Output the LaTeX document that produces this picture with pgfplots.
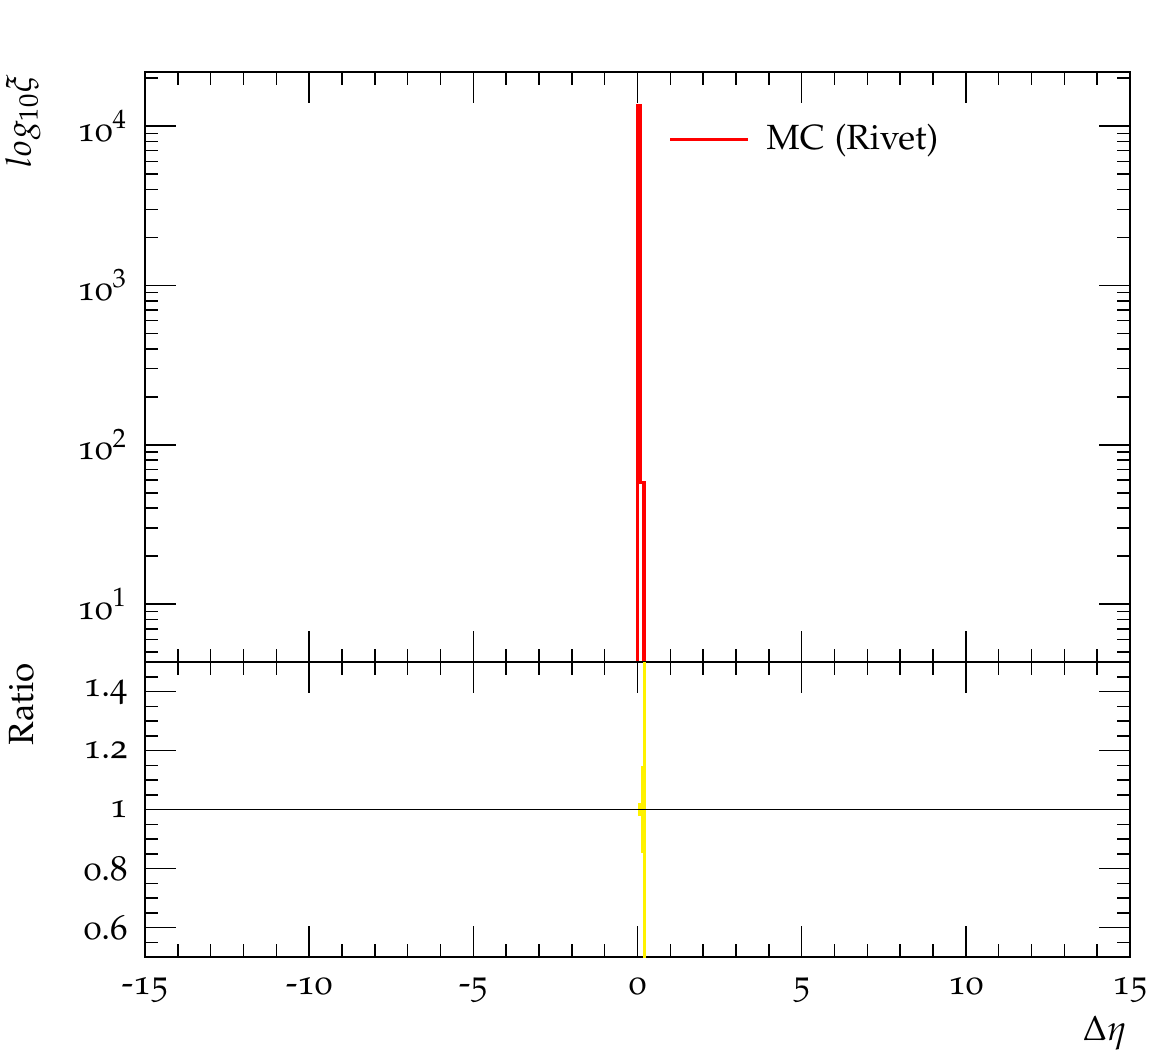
\documentclass[border=0pt]{standalone}
\usepackage[T1]{fontenc}
\usepackage[osf]{mathpazo}
\usepackage{pgfplots}
\pgfplotsset{compat=1.18}
\begin{document}
\begin{tikzpicture}
\fontsize{10.5}{12.6}\selectfont
\useasboundingbox (0,0) rectangle (350.1pt,316.8pt);
\pgfplotsset{
  rivet/.style={
    scale only axis, anchor=south west, width=295.5pt,
    xmin=-15, xmax=15,
    xtick={-15,-10,...,15},
    minor xtick={-14,-13,-12,-11,-9,-8,-7,-6,-4,-3,-2,-1,1,2,3,4,6,7,8,9,11,12,13,14},
    tick align=inside, major tick length=9.3pt, minor tick length=3.9pt,
    every tick/.style={black, line width=0.45pt},
    axis line style={line width=0.5pt},
    /pgf/number format/assume math mode=true,
    tick label style={font=\fontsize{10.5}{12.6}\selectfont},
    yticklabel style={xshift=-1.5pt},
    xticklabel style={yshift=-2.5pt},
  }
}
\begin{axis}[rivet,
  at={(43.5pt,118.2pt)}, height=177pt,
  ymode=log, ymin=4.34, ymax=21800,
  xticklabels={},
  ytick={10,100,1000,10000},
  yticklabels={10$^{1}$,10$^{2}$,10$^{3}$,10$^{4}$},
  minor ytick={5,6,7,8,9,20,30,40,50,60,70,80,90,200,300,400,500,600,700,800,900,2000,3000,4000,5000,6000,7000,8000,9000,20000},
  legend style={at={(0.531,0.886)}, anchor=west, draw=none, fill=none, inner sep=0pt,
    nodes={inner sep=0pt}, font=\fontsize{10.5}{12.6}\selectfont},
  legend image code/.code={\draw[red,line width=1pt](0pt,0pt)--(23.4pt,0pt); \path (28.4pt,0pt);},
]
\addplot[red, line width=1pt, const plot mark left] coordinates {
  (-0.1,0.5) (0,13400) (0.1,58) (0.2,0.5) (0.3,0.5)
};
\addlegendentry{MC (Rivet)}
\end{axis}
\begin{axis}[rivet,
  at={(43.5pt,29.7pt)}, height=88.5pt,
  ymin=0.5, ymax=1.5,
  ytick={0.6,0.8,1,1.2,1.4},
  minor ytick={0.55,0.65,0.7,0.75,0.85,0.9,0.95,1.05,1.1,1.15,1.25,1.3,1.35,1.45},
]
\addplot[fill=yellow, draw=none] coordinates {(0,0.978) (0.1,0.978) (0.1,1.022) (0,1.022)} -- cycle;
\addplot[fill=yellow, draw=none] coordinates {(0.1,0.854) (0.17,0.854) (0.17,1.146) (0.1,1.146)} -- cycle;
\addplot[fill=yellow, draw=none] coordinates {(0.17,0) (0.27,0) (0.27,2) (0.17,2)} -- cycle;
\addplot[black, line width=0.45pt] coordinates {(-15,1) (15,1)};
\end{axis}
\node[rotate=90, anchor=base east, inner sep=0pt] at (9.3pt,294.6pt) {$log_{10}\xi$};
\node[rotate=90, anchor=base east, inner sep=0pt] at (9.9pt,117.9pt) {Ratio};
\node[anchor=base east, inner sep=0pt] at (338.4pt,4.8pt) {$\Delta\eta$};
\end{tikzpicture}
\end{document}
